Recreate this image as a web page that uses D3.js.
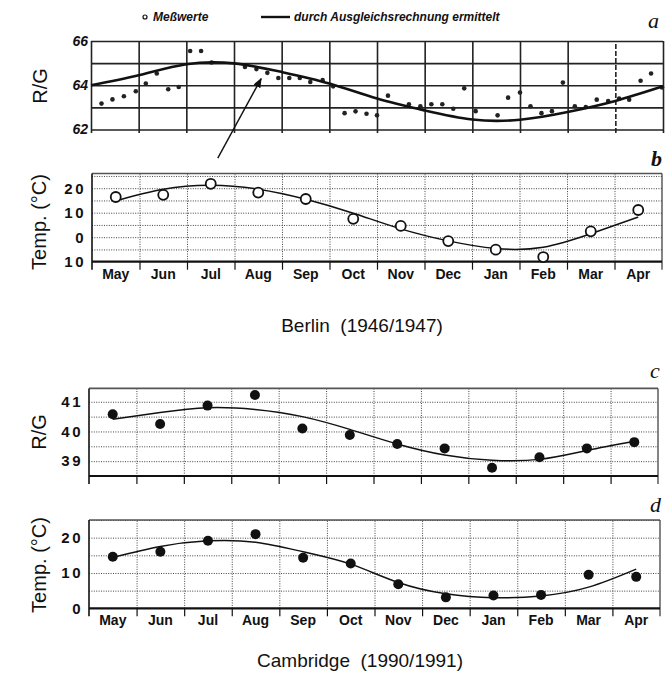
<html>
  <head>
    <script src="https://d3js.org/d3.v7.min.js"></script>
    <style>
      body { margin: 0; background: #fff; }
      text { font-family: "Liberation Sans", Arial, sans-serif; fill: #111; }
      .dot-grid line { stroke: #444; stroke-width: 1; stroke-dasharray: 1,1.4; }
      .solid-grid line { stroke: #222; stroke-width: 1.6; }
      .domain { display: none; }
    </style>
  </head>

  <body>
    <svg id="vis"></svg>
  </body>

  <script>
    // months shown on the x axis (cells), May to Apr
    var months = ["May", "Jun", "Jul", "Aug", "Sep", "Oct", "Nov", "Dec", "Jan", "Feb", "Mar", "Apr"]

    // a: Berlin R/G measurements (position in months from start of May, value)
    var berlinRGPos = [0.22, 0.45, 0.69, 0.94, 1.15, 1.38, 1.62, 1.84, 2.08, 2.31, 2.53, 3.23, 3.47, 3.70, 3.93, 4.16, 4.38, 4.60, 4.86, 5.08,
                       5.32, 5.55, 5.78, 6.00, 6.23, 6.67, 6.91, 7.14, 7.37, 7.60, 7.83, 8.07, 8.53, 8.75, 9.00, 9.22, 9.45, 9.67, 9.90, 10.15,
                       10.38, 10.61, 10.85, 11.08, 11.29, 11.53, 11.75, 11.98]
    var berlinRG = [63.17, 63.36, 63.50, 63.73, 64.08, 64.53, 63.82, 63.92, 65.55, 65.55, 65.03, 64.83, 64.73, 64.56, 64.33, 64.33, 64.33, 64.15, 64.23, 63.95,
                    62.74, 62.82, 62.71, 62.64, 63.53, 63.14, 63.05, 63.14, 63.14, 62.94, 63.86, 62.83, 62.64, 63.44, 63.67, 63.05, 62.74, 62.83, 64.12, 63.05,
                    63.02, 63.35, 63.29, 63.40, 63.35, 64.20, 64.53, 63.90]
    // a: fitted curve, read at each month boundary (0..12)
    var berlinRGFit = [64.0, 64.45, 64.95, 64.99, 64.6, 64.08, 63.4, 62.86, 62.45, 62.44, 62.79, 63.29, 63.95]

    // b: Berlin monthly temperature and fit (at month centres)
    var berlinTemp = [16.4, 17.3, 21.8, 18.2, 15.6, 7.5, 4.6, -1.6, -5.1, -8.1, 2.4, 11.1]
    var berlinTempFit = [14.9, 19.6, 21.2, 19.6, 15.5, 9.8, 3.4, -1.5, -4.6, -4.1, 1.4, 8.2]

    // c: Cambridge R/G and fit
    var cambRG = [40.58, 40.25, 40.87, 41.23, 40.10, 39.88, 39.58, 39.43, 38.78, 39.13, 39.43, 39.64]
    var cambRGFit = [40.41, 40.64, 40.80, 40.74, 40.50, 40.07, 39.58, 39.21, 39.03, 39.06, 39.36, 39.67]

    // d: Cambridge monthly temperature and fit
    var cambTemp = [14.6, 16.0, 19.1, 21.0, 14.3, 12.7, 6.8, 3.1, 3.6, 3.8, 9.5, 8.9]
    var cambTempFit = [14.4, 17.5, 19.1, 18.7, 16.0, 12.5, 7.3, 4.1, 3.0, 3.5, 6.0, 11.1]

    var svg = d3.select("svg").attr("width", 668).attr("height", 677)
    svg.append("rect").attr("width", 668).attr("height", 677).attr("fill", "#fff")

    var bounds = d3.range(13)
    var centres = d3.range(12).map(function(i){ return i + 0.5 })

    // draws the frame, grid and axis labels shared by panels b, c, d
    function dottedPanel(x, y, gridVals, labelVals, showMonths) {
      var x0 = x.range()[0], x1 = x.range()[1]
      var y0 = y.range()[0], y1 = y.range()[1]

      svg.append("g").attr("class", "dot-grid")
        .attr("transform", "translate(" + x0 + ",0)")
        .call(d3.axisLeft(y).tickValues(gridVals).tickSize(-(x1 - x0)).tickFormat(""))

      svg.append("g").attr("class", "dot-grid")
        .attr("transform", "translate(0," + y0 + ")")
        .call(d3.axisTop(x).tickValues(bounds.slice(1, 12)).tickSize(y0 - y1).tickFormat(""))

      // ticks below the axis
      svg.append("g")
        .attr("transform", "translate(0," + y0 + ")")
        .call(d3.axisBottom(x).tickValues(bounds.slice(1, 12)).tickSize(8).tickFormat(""))
        .selectAll("line").attr("stroke", "#111").attr("stroke-width", 1.2)

      // frame
      svg.append("line").attr("x1", x0).attr("x2", x1).attr("y1", y1).attr("y2", y1).attr("stroke", "#555").attr("stroke-width", 1.6)
      svg.append("line").attr("x1", x0).attr("x2", x0).attr("y1", y1).attr("y2", y0 + 8).attr("stroke", "#111").attr("stroke-width", 1.6)
      svg.append("line").attr("x1", x1).attr("x2", x1).attr("y1", y1).attr("y2", y0 + 8).attr("stroke", "#333").attr("stroke-width", 1.2)
      svg.append("line").attr("x1", x0).attr("x2", x1).attr("y1", y0).attr("y2", y0).attr("stroke", "#111").attr("stroke-width", 2.2)

      // y labels
      svg.append("g")
        .attr("transform", "translate(" + (x0 - 8) + ",0)")
        .call(d3.axisLeft(y).tickValues(labelVals).tickSize(0).tickFormat(function(d){ return Math.abs(d) }))
        .selectAll("text")
        .attr("x", 2)
        .style("font-size", "15px").style("font-weight", "bold").style("letter-spacing", "2.5px")

      if (showMonths) {
        var band = d3.scaleBand().domain(months).range([x0, x1])
        svg.append("g")
          .attr("transform", "translate(0," + y0 + ")")
          .call(d3.axisBottom(band).tickSize(0).tickPadding(7))
          .selectAll("text")
          .style("font-size", "14px").style("font-weight", "bold")
      }
    }

    function fitLine(x, y, pos, vals, width) {
      svg.append("path")
        .datum(vals)
        .attr("fill", "none").attr("stroke", "#111").attr("stroke-width", width)
        .attr("d", d3.line().curve(d3.curveNatural)
          .x(function(d, i){ return x(pos[i]) })
          .y(function(d){ return y(d) }))
    }

    function yTitle(text, cx, cy) {
      svg.append("text")
        .attr("transform", "translate(" + cx + "," + cy + ") rotate(-90)")
        .attr("text-anchor", "middle")
        .style("font-size", "20px")
        .text(text)
    }

    function panelLetter(text, px, py, bold) {
      svg.append("text").attr("x", px).attr("y", py)
        .style("font-family", "'Liberation Serif', 'DejaVu Serif', serif")
        .style("font-style", "italic").style("font-weight", bold ? "bold" : "normal")
        .style("font-size", "22px")
        .text(text)
    }

    // ---------- panel a ----------
    var xA = d3.scaleLinear().domain([0, 12]).range([91, 663])
    var yA = d3.scaleLinear().domain([62, 66]).range([129.5, 41])

    svg.append("g").attr("class", "solid-grid")
      .attr("transform", "translate(91,0)")
      .call(d3.axisLeft(yA).tickValues([62, 63, 64, 65, 66]).tickSize(-572).tickFormat(""))

    svg.append("g").attr("class", "solid-grid")
      .attr("transform", "translate(0,133)")
      .call(d3.axisTop(xA).tickValues(bounds).tickSize(92).tickFormat(""))
      .selectAll("line")
      .attr("stroke-dasharray", function(d){ return d === 11 ? "5,2" : null })

    svg.append("g")
      .attr("transform", "translate(89,0)")
      .call(d3.axisLeft(yA).tickValues([62, 64, 66]).tickSize(0).tickPadding(1).tickFormat(d3.format("d")))
      .selectAll("text")
      .style("font-family", "'Liberation Sans Narrow', 'Liberation Sans', sans-serif")
      .style("font-size", "14px").style("font-weight", "bold").style("font-style", "italic")

    svg.append("g").selectAll("circle")
      .data(berlinRG).enter().append("circle")
      .attr("cx", function(d, i){ return xA(berlinRGPos[i]) })
      .attr("cy", function(d){ return yA(d) })
      .attr("r", 2.3).attr("fill", "#222")

    fitLine(xA, yA, bounds, berlinRGFit, 2.6)

    // arrow
    svg.append("defs").append("marker")
      .attr("id", "arr").attr("viewBox", "0 0 10 10").attr("refX", 9).attr("refY", 5)
      .attr("markerWidth", 7).attr("markerHeight", 7).attr("orient", "auto")
      .append("path").attr("d", "M0,1L10,5L0,9z").attr("fill", "#111")
    svg.append("line")
      .attr("x1", xA(2.66)).attr("y1", yA(60.71))
      .attr("x2", xA(3.57)).attr("y2", yA(64.3))
      .attr("stroke", "#111").attr("stroke-width", 1.4)
      .attr("marker-end", "url(#arr)")

    // legend
    var legFont = "'Liberation Sans Narrow', 'Liberation Sans', sans-serif"
    svg.append("circle").attr("cx", 145).attr("cy", 17).attr("r", 2).attr("fill", "none").attr("stroke", "#111").attr("stroke-width", 1.2)
    svg.append("text").attr("x", 153).attr("y", 21).text("Meßwerte")
      .style("font-family", legFont).style("font-size", "12px").style("font-weight", "bold").style("font-style", "italic")
    svg.append("line").attr("x1", 261).attr("x2", 290).attr("y1", 17).attr("y2", 17).attr("stroke", "#111").attr("stroke-width", 2.4)
    svg.append("text").attr("x", 294).attr("y", 21).text("durch Ausgleichsrechnung ermittelt")
      .style("font-family", legFont).style("font-size", "12px").style("font-weight", "bold").style("font-style", "italic")

    yTitle("R/G", 47, 86)
    panelLetter("a", 648, 28, false)

    // ---------- panel b ----------
    var xB = d3.scaleLinear().domain([0, 12]).range([92, 662])
    var yB = d3.scaleLinear().domain([-10, 26]).range([261.7, 173.5])
    dottedPanel(xB, yB, [-5, 0, 5, 10, 15, 20, 25], [-10, 0, 10, 20], true)

    fitLine(xB, yB, centres, berlinTempFit, 1.5)
    svg.append("g").selectAll("circle")
      .data(berlinTemp).enter().append("circle")
      .attr("cx", function(d, i){ return xB(centres[i]) })
      .attr("cy", function(d){ return yB(d) })
      .attr("r", 5).attr("fill", "#fff").attr("stroke", "#111").attr("stroke-width", 1.8)

    yTitle("Temp. (°C)", 46, 222)
    panelLetter("b", 651, 166, true)

    svg.append("text").attr("x", 362).attr("y", 332).attr("text-anchor", "middle")
      .style("font-size", "19px").text("Berlin  (1946/1947)").attr("xml:space", "preserve")

    // ---------- panel c ----------
    var xC = d3.scaleLinear().domain([0, 12]).range([89, 658])
    var yC = d3.scaleLinear().domain([38.5, 41.45]).range([476, 388.4])
    dottedPanel(xC, yC, [39, 39.5, 40, 40.5, 41], [39, 40, 41], false)

    fitLine(xC, yC, centres, cambRGFit, 1.5)
    svg.append("g").selectAll("circle")
      .data(cambRG).enter().append("circle")
      .attr("cx", function(d, i){ return xC(centres[i]) })
      .attr("cy", function(d){ return yC(d) })
      .attr("r", 5).attr("fill", "#111")

    yTitle("R/G", 46, 432)
    panelLetter("c", 650, 378, false)

    // ---------- panel d ----------
    var xD = d3.scaleLinear().domain([0, 12]).range([89, 660])
    var yD = d3.scaleLinear().domain([0, 25]).range([608.3, 520])
    dottedPanel(xD, yD, [5, 10, 15, 20, 25], [0, 10, 20], true)

    fitLine(xD, yD, centres, cambTempFit, 1.5)
    svg.append("g").selectAll("circle")
      .data(cambTemp).enter().append("circle")
      .attr("cx", function(d, i){ return xD(centres[i]) })
      .attr("cy", function(d){ return yD(d) })
      .attr("r", 5).attr("fill", "#111")

    yTitle("Temp. (°C)", 46, 565)
    panelLetter("d", 650, 512, false)

    svg.append("text").attr("x", 360).attr("y", 667).attr("text-anchor", "middle")
      .style("font-size", "19px").text("Cambridge  (1990/1991)").attr("xml:space", "preserve")
  </script>
</html>
